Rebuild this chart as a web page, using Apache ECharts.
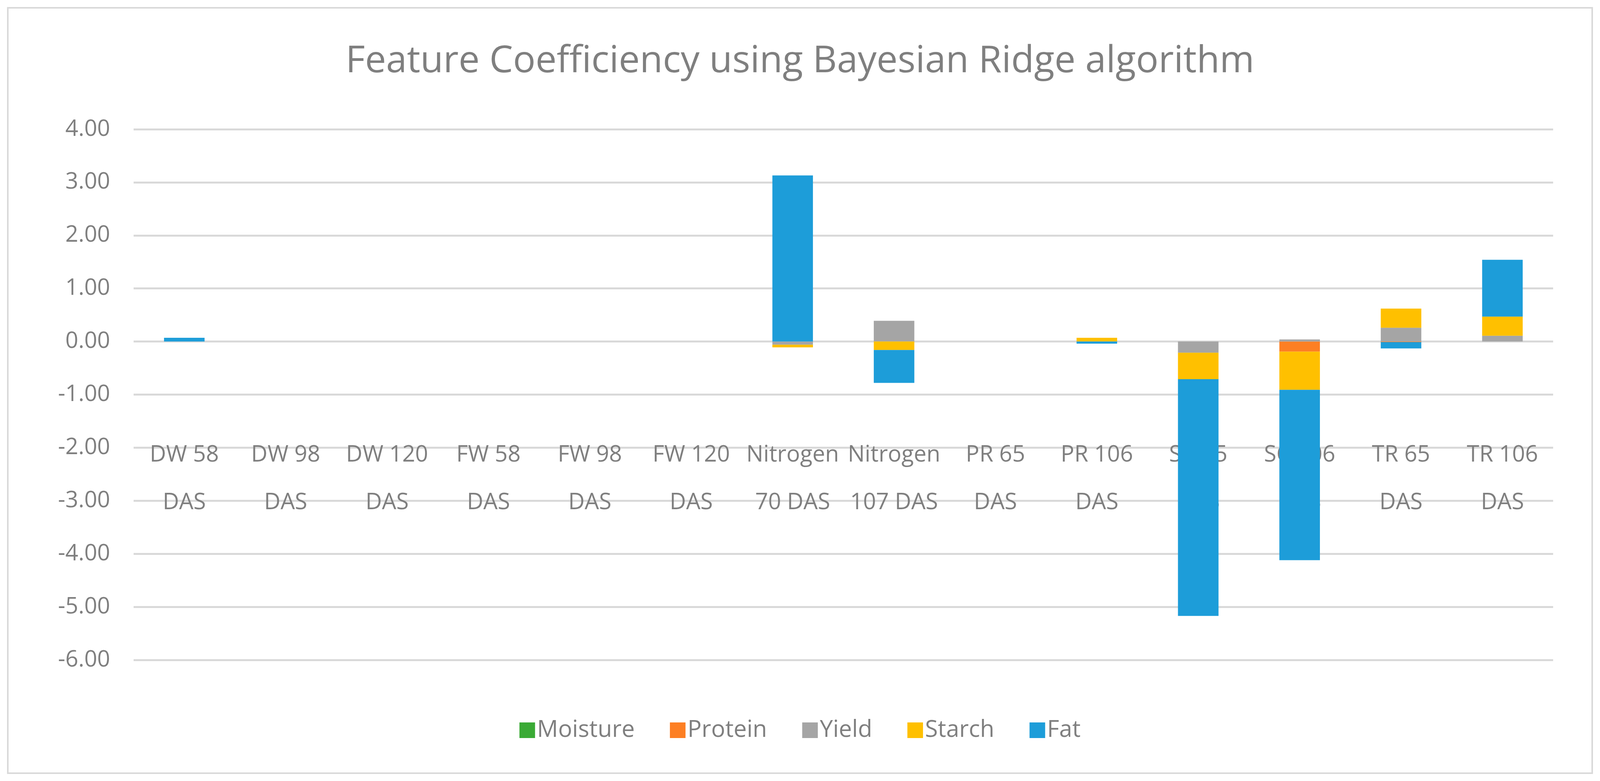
<!DOCTYPE html>
<html><head><meta charset="utf-8">
<script src="https://cdn.jsdelivr.net/npm/echarts@6/dist/echarts.min.js"></script>
<style>html,body{margin:0;padding:0;background:#fff;overflow:hidden}#c{width:100vw;height:100vh}</style>
</head><body><div id="c"></div>
<script>
const categories=['DW 58\nDAS','DW 98\nDAS','DW 120\nDAS','FW 58\nDAS','FW 98\nDAS','FW 120\nDAS','Nitrogen\n70 DAS','Nitrogen\n107 DAS','PR 65\nDAS','PR 106\nDAS','SC 65\nDAS','SC 106\nDAS','TR 65\nDAS','TR 106\nDAS'];
const moisture=[0,0,0,0,0,0,0,0,0,0,0,0,0,0];
const protein=[0,0,0,0,0,0,0,0,0,0,0,-0.19,-0.01,0];
const yieldV=[0,0,0,0,0,0,-0.06,0.39,0,0,-0.21,0.04,0.26,0.11];
const starch=[0,0,0,0,0,0,-0.05,-0.16,0,0.07,-0.50,-0.72,0.36,0.36];
const fat=[0.07,0,0,0,0,0,3.13,-0.62,0,-0.04,-4.46,-3.21,-0.12,1.07];
const tickFmt=v=>v.toFixed(2);
const txt='#7f7f7f', font='Open Sans';
const el=document.getElementById('c');
const W=el.clientWidth, H=el.clientHeight;
const gTop=331, gBottom=310, plotH=H-gTop-gBottom, unit=plotH/10;
const mk=(name,data,color)=>({name,type:'bar',stack:'s',data,barWidth:'40%',itemStyle:{color},emphasis:{disabled:true}});
const chart=echarts.init(el);
chart.setOption({
 textStyle:{fontFamily:font},
 graphic:[{type:'rect',shape:{x:20,y:20,width:W-40,height:H-40},style:{fill:'none',stroke:'#d9d9d9',lineWidth:4}}],
 title:{text:'Feature Coefficiency using Bayesian Ridge algorithm',left:'center',top:105,textStyle:{color:txt,fontSize:96,fontWeight:'normal',fontFamily:font}},
 legend:{bottom:95,left:'center',itemWidth:40,itemHeight:40,itemGap:90,icon:'rect',textStyle:{color:txt,fontSize:60,fontFamily:font},data:['Moisture','Protein','Yield','Starch','Fat']},
 grid:{left:342,right:120,top:gTop,bottom:gBottom,containLabel:false},
 xAxis:{type:'category',data:categories,axisTick:{show:false},axisLine:{show:false},
   axisLabel:{color:txt,fontSize:58,lineHeight:122,margin:-(6*unit-230),interval:0,fontFamily:font,verticalAlign:'top'}},
 yAxis:{type:'value',min:-6,max:4,interval:1,axisLabel:{formatter:tickFmt,color:txt,fontSize:58,margin:60,fontFamily:font},
   splitLine:{lineStyle:{color:'#d9d9d9',width:5}},axisLine:{show:false},axisTick:{show:false}},
 series:[mk('Moisture',moisture,'#3aaa35'),mk('Protein',protein,'#fd7f23'),mk('Yield',yieldV,'#a5a5a5'),mk('Starch',starch,'#ffc000'),mk('Fat',fat,'#1d9dd9')]
});
</script></body></html>
